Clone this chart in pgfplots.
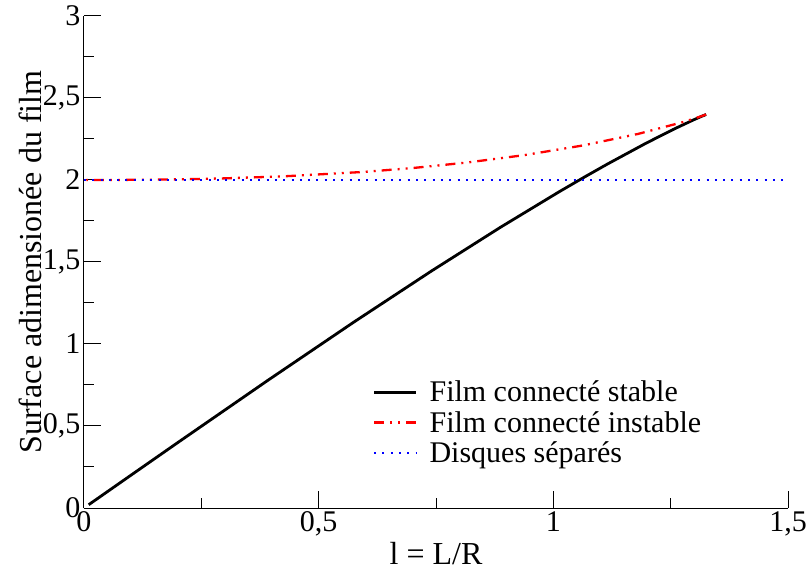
\documentclass[border=0pt]{standalone}
\usepackage{fontspec}
\setmainfont{Liberation Serif}
\usepackage{pgfplots}
\pgfplotsset{compat=1.18}
\begin{document}
\begin{tikzpicture}
\begin{axis}[
  scale only axis, width=704bp, height=492bp,
  xmin=0, xmax=1.5, ymin=0, ymax=3,
  axis x line*=bottom, axis y line*=left,
  axis line style={line width=1bp, -},
  xtick={0,0.5,1,1.5}, ytick={0,0.5,1,1.5,2,2.5,3},
  minor x tick num=1, minor y tick num=1,
  tick align=inside,
  major tick length=17bp, minor tick length=10bp,
  every tick/.style={black, line width=1bp},
  /pgf/number format/use comma,
  /pgf/number format/assume math mode=true,
  tick label style={font=\fontsize{30bp}{32bp}\selectfont},
  xlabel={l = L/R},
  ylabel={Surface adimensionée du film},
  every axis x label/.style={at={(axis description cs:0.5,-0.114)}, anchor=base,
    font=\fontsize{32bp}{34bp}\selectfont},
  every axis y label/.style={at={(axis description cs:-0.061,0.5)}, anchor=base, rotate=90,
    font=\fontsize{32bp}{34bp}\selectfont},
  legend style={at={(axis cs:0.6085,0.80)}, anchor=north west, draw=none, fill=none,
    font=\fontsize{30bp}{32bp}\selectfont, row sep=4bp},
  legend cell align=left,
  legend image code/.code={\draw[#1] (0bp,0bp) -- (42bp,0bp); \path (52bp,0bp);},
]
\addplot[black, line width=2.8bp] coordinates {
(0.01,0.02) (0.09988,0.19967) (0.19900,0.39735) (0.39213,0.77917)
(0.57398,1.13171) (0.74001,1.44441) (0.88682,1.71068) (1.01227,1.92799)
(1.06663,2.01849) (1.11538,2.09737) (1.19632,2.22256) (1.25603,2.30905)
(1.29611,2.36314) (1.30939,2.38005) (1.31852,2.39124) (1.32381,2.39745)
(1.32549,2.39929)
};
\addlegendentry{Film connecté stable}
\addplot[red, line width=2.3bp, dash pattern=on 10bp off 6bp on 2bp off 6bp on 2bp off 6bp] coordinates {
(1.32549,2.39929) (1.32386,2.39760) (1.31919,2.39277) (1.30178,2.37593)
(1.27528,2.35242) (1.18076,2.28109) (1.06321,2.21066) (0.93817,2.15164)
(0.81536,2.10619) (0.70034,2.07290) (0.59597,2.04930) (0.42238,2.02184)
(0.29295,2.00938) (0.19994,2.00395) (0.13475,2.00163) (0.05949,2.00027)
(0.02553,2.00005) (0.005,2.0)
};
\addlegendentry{Film connecté instable}
\addplot[blue, line width=2bp, dash pattern=on 2bp off 6.3bp] coordinates {
(0,2) (1.5,2)
};
\addlegendentry{Disques séparés}
\end{axis}
\pgfresetboundingbox
\path (current axis.south west) ++(-84bp,-64bp) coordinate (bl);
\path (current axis.north east) ++(20bp,16bp) coordinate (tr);
\useasboundingbox (bl) rectangle (tr);
\end{tikzpicture}
\end{document}
